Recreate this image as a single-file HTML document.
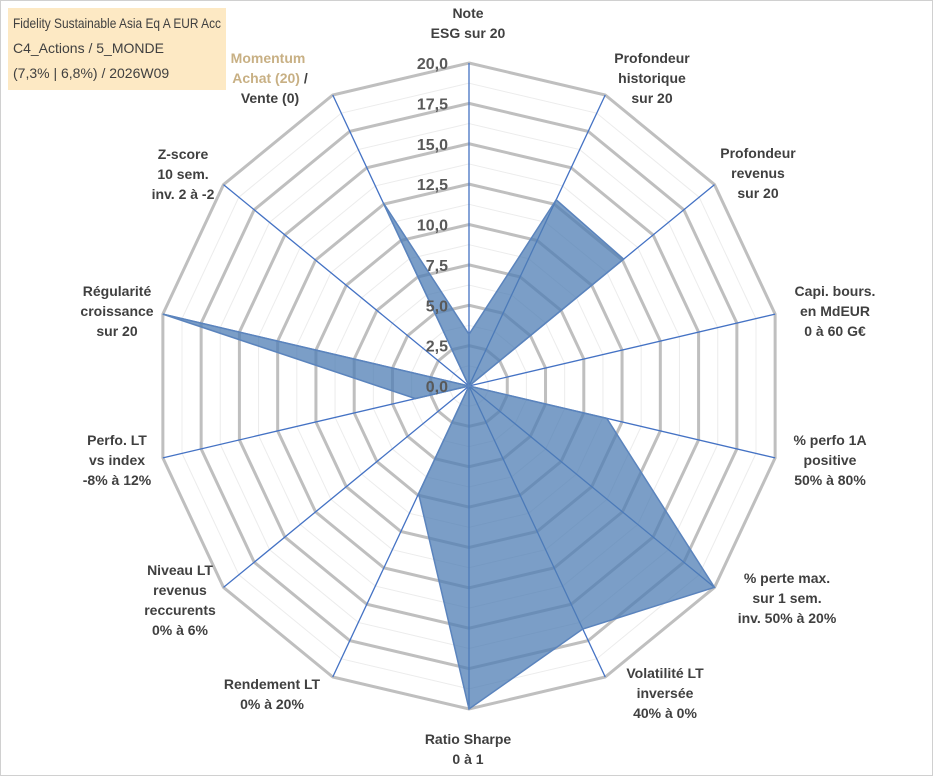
<!DOCTYPE html>
<html><head><meta charset="utf-8"><style>
body{margin:0;background:#fff}
svg{display:block;font-family:"Liberation Sans",sans-serif}
</style></head><body>
<svg id="chart" width="933" height="776" viewBox="0 0 933 776" xmlns="http://www.w3.org/2000/svg">
<rect x="0.5" y="0.5" width="932" height="775" fill="#fff" stroke="#d0d0d0"/>
<g id="grid"></g><g id="axes"></g><g id="series"></g><g id="ticks"></g>
<g id="labels" font-size="14" font-weight="bold" fill="#404040" text-anchor="middle">
<text><tspan x="468" y="18">Note</tspan><tspan x="468" y="38">ESG sur 20</tspan></text>
<text><tspan x="652" y="63">Profondeur</tspan><tspan x="652" y="83">historique</tspan><tspan x="652" y="103">sur 20</tspan></text>
<text><tspan x="758" y="158">Profondeur</tspan><tspan x="758" y="178">revenus</tspan><tspan x="758" y="198">sur 20</tspan></text>
<text><tspan x="835" y="296">Capi. bours.</tspan><tspan x="835" y="316">en MdEUR</tspan><tspan x="835" y="336">0 à 60 G€</tspan></text>
<text><tspan x="830" y="445">% perfo 1A</tspan><tspan x="830" y="465">positive</tspan><tspan x="830" y="485">50% à 80%</tspan></text>
<text><tspan x="787" y="583">% perte max.</tspan><tspan x="787" y="603">sur 1 sem.</tspan><tspan x="787" y="623">inv. 50% à 20%</tspan></text>
<text><tspan x="665" y="678">Volatilité LT</tspan><tspan x="665" y="698">inversée</tspan><tspan x="665" y="718">40% à 0%</tspan></text>
<text><tspan x="468" y="744">Ratio Sharpe</tspan><tspan x="468" y="764">0 à 1</tspan></text>
<text><tspan x="272" y="689">Rendement LT</tspan><tspan x="272" y="709">0% à 20%</tspan></text>
<text><tspan x="180" y="575">Niveau LT</tspan><tspan x="180" y="595">revenus</tspan><tspan x="180" y="615">reccurents</tspan><tspan x="180" y="635">0% à 6%</tspan></text>
<text><tspan x="117" y="445">Perfo. LT</tspan><tspan x="117" y="465">vs index</tspan><tspan x="117" y="485">-8% à 12%</tspan></text>
<text><tspan x="117" y="296">Régularité</tspan><tspan x="117" y="316">croissance</tspan><tspan x="117" y="336">sur 20</tspan></text>
<text><tspan x="183" y="159">Z-score</tspan><tspan x="183" y="179">10 sem.</tspan><tspan x="183" y="199">inv. 2 à -2</tspan></text>
</g>
<rect x="8" y="8" width="218" height="82" fill="#fde9c4"/>
<g font-size="14" fill="#404040">
<text x="13" y="28" textLength="208" lengthAdjust="spacingAndGlyphs">Fidelity Sustainable Asia Eq A EUR Acc</text>
<text x="13" y="53">C4_Actions / 5_MONDE</text>
<text x="13" y="78">(7,3% | 6,8%) / 2026W09</text>
</g>
<text font-size="14" font-weight="bold" text-anchor="middle"><tspan x="268" y="63" fill="#c8b084">Momentum</tspan><tspan x="270" y="83" fill="#c8b084">Achat (20) <tspan fill="#404040">/</tspan></tspan><tspan x="270" y="103" fill="#404040">Vente (0)</tspan></text>
</svg>
<script>
const categories=["Note ESG","Profondeur historique","Profondeur revenus","Capi","% perfo 1A","% perte max","Volatilité LT","Ratio Sharpe","Rendement LT","Niveau LT","Perfo LT","Régularité","Z-score","Momentum"];
const values=[3.2,12.8,12.6,0,9.0,20,16.7,20,7.4,0,3.5,20,0,12.6];
const tickValues=[0,2.5,5,7.5,10,12.5,15,17.5,20];
const tickLabels=["0,0","2,5","5,0","7,5","10,0","12,5","15,0","17,5","20,0"];
const NS="http://www.w3.org/2000/svg",cx=469,cy=386,RY=323,RX=314,MAX=20;
const n=categories.length;
function ang(i){return i*2*Math.PI/n;}
function pt(i,v){const a=ang(i);return [cx+v/MAX*RX*Math.sin(a),cy-v/MAX*RY*Math.cos(a)];}
function mk(tag,attrs,parent){const e=document.createElementNS(NS,tag);for(const k in attrs)e.setAttribute(k,attrs[k]);document.getElementById(parent).appendChild(e);return e;}
for(let v=1.25;v<=MAX+0.01;v+=1.25){
  const major=Math.abs(v/2.5-Math.round(v/2.5))<0.01;
  const p=[];for(let i=0;i<n;i++)p.push(pt(i,v).join(','));
  const g=mk('polygon',{points:p.join(' '),fill:'none',stroke:major?'#bfbfbf':'#ececec','stroke-width':major?3:1},'grid');
  
  
}
for(let i=0;i<n;i++){
  const e=pt(i,MAX);
  const l=mk('line',{x1:cx,y1:cy,x2:e[0],y2:e[1],stroke:'#4472c4','stroke-width':1.3},'axes');
  
  
}
const sp=values.map((v,i)=>pt(i,v).join(',')).join(' ');
const poly=mk('polygon',{points:sp,fill:'rgba(79,125,180,0.75)',stroke:'#5b84bd','stroke-width':1.5},'series');


tickValues.forEach((v,k)=>{
  const t=mk('text',{x:448,y:cy-v/MAX*RY+6,'text-anchor':'end','font-size':16,'font-weight':'bold',fill:'#595959'},'ticks');
  t.textContent=tickLabels[k];
  
  
});
</script>
</body></html>
